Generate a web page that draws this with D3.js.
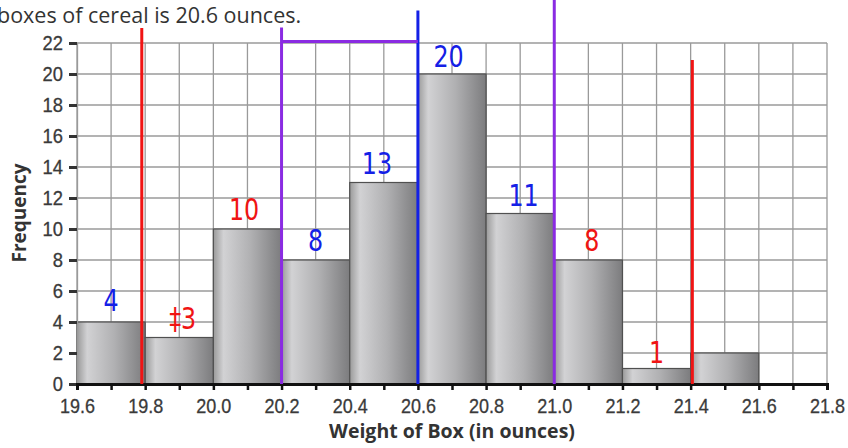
<!DOCTYPE html>
<html><head><meta charset="utf-8">
<script src="https://cdn.jsdelivr.net/npm/d3@7"></script>
<style>
html,body{margin:0;padding:0;background:#fff;overflow:hidden;}
svg{display:block;}
</style></head>
<body>
<svg id="c" width="848" height="448"></svg>
<script>
// ---- data ----
const binStarts = [19.6, 19.8, 20.0, 20.2, 20.4, 20.6, 20.8, 21.0, 21.2, 21.4];
const binWidth = 0.2;
const frequencies = [4, 3, 10, 8, 13, 20, 11, 8, 1, 2];
const yTicks = [0, 2, 4, 6, 8, 10, 12, 14, 16, 18, 20, 22];
const xTickLabels = ["19.6","19.8","20.0","20.2","20.4","20.6","20.8","21.0","21.2","21.4","21.6","21.8"];
const titleText = "boxes of cereal is 20.6 ounces.";
const xLabel = "Weight of Box (in ounces)";
const yLabel = "Frequency";
// hand-drawn annotations
const noteText = ["4", "\u20213", "10", "8", "13", "20", "11", "8", "1"];
const noteX = [19.70, 19.91, 20.09, 20.30, 20.48, 20.69, 20.91, 21.11, 21.30];
const noteY = [5.4, 4.3, 11.3, 9.3, 14.3, 21.2, 12.2, 9.3, 2.1];
const noteColor = ["blue", "red", "red", "blue", "blue", "blue", "blue", "red", "red"];
const markX = [19.79, 20.2, 20.6, 21.0, 21.405];
const markTop = [22.97, 23.0, 24.1, 24.8, 20.9];
const markColor = ["red", "purple", "blue", "purple", "red"];
const bracket = [20.2, 20.6, 22.1];

const colors = {red: "#f01414", blue: "#1420e6", purple: "#8a2be2"};

const svg = d3.select("#c");
const x = d3.scaleLinear().domain([19.6, 21.8]).range([77, 827]);
const y = d3.scaleLinear().domain([0, 22]).range([384, 43]);
const font = "'Liberation Sans', Arial, sans-serif";

// gradient
const defs = svg.append("defs");
const g = defs.append("linearGradient").attr("id", "barg").attr("x1", "0").attr("x2", "1").attr("y1", "0").attr("y2", "0");
g.append("stop").attr("offset", "0").attr("stop-color", "#9a9a9a");
g.append("stop").attr("offset", "0.15").attr("stop-color", "#d2d2d4");
g.append("stop").attr("offset", "0.55").attr("stop-color", "#b0b0b2");
g.append("stop").attr("offset", "1").attr("stop-color", "#7c7c7e");

// title
svg.append("text").attr("x", -3).attr("y", 23).attr("font-family", "'Open Sans', sans-serif")
  .attr("font-size", 21.5).attr("fill", "#333").text(titleText);

// grid
const vgrid = d3.range(0, 23).map(i => 19.6 + i * 0.1);
svg.append("g").selectAll("line").data(vgrid).join("line")
  .attr("x1", d => x(d)).attr("x2", d => x(d)).attr("y1", y(22)).attr("y2", y(0))
  .attr("stroke", "#9a9a9a").attr("stroke-width", 1.3);
svg.append("g").selectAll("line").data(yTicks.filter(d => d > 0)).join("line")
  .attr("x1", x(19.6)).attr("x2", x(21.8)).attr("y1", d => y(d)).attr("y2", d => y(d))
  .attr("stroke", "#9a9a9a").attr("stroke-width", 1.3);

// bars
svg.append("g").selectAll("rect").data(frequencies).join("rect")
  .attr("x", (d, i) => x(binStarts[i]))
  .attr("width", (d, i) => x(binStarts[i] + binWidth) - x(binStarts[i]))
  .attr("y", d => y(d)).attr("height", d => y(0) - y(d))
  .attr("fill", "url(#barg)").attr("stroke", "#505050").attr("stroke-width", 1.2);

// y axis
const ya = svg.append("g").attr("transform", `translate(${x(19.6)},0)`)
  .call(d3.axisLeft(y).tickValues(yTicks).tickSize(8).tickPadding(4));
ya.attr("font-size", null).attr("font-family", null);
ya.select(".domain").attr("stroke", "#9a9a9a").attr("stroke-width", 1.3);
ya.selectAll(".tick line").attr("stroke", "#333").attr("stroke-width", 3);
ya.selectAll(".tick text")
  .style("font-family", font).style("font-size", "20px").attr("fill", "#3a3a3a")
  .attr("stroke", "#3a3a3a").attr("stroke-width", 0.3)
  .attr("x", 0).attr("transform", "translate(-14,0) scale(0.92,1)");

// x axis
const xa = svg.append("g").attr("transform", `translate(0,${y(0)})`)
  .call(d3.axisBottom(x).tickValues(vgrid).tickSize(6).tickPadding(4)
    .tickFormat((d, i) => i % 2 === 0 ? xTickLabels[i / 2] : ""));
xa.attr("font-size", null).attr("font-family", null);
xa.select(".domain").attr("stroke", "#111").attr("stroke-width", 3);
xa.selectAll(".tick line").attr("stroke", "#111").attr("stroke-width", 2.5);
xa.selectAll(".tick text")
  .style("font-family", font).style("font-size", "20px").attr("fill", "#3a3a3a")
  .attr("stroke", "#3a3a3a").attr("stroke-width", 0.3)
  .attr("y", 0).attr("dy", 0).attr("transform", "translate(0,29) scale(0.9,1)");

// axis labels
svg.append("text").attr("x", 452).attr("y", 438).attr("text-anchor", "middle")
  .attr("font-family", "'Open Sans', sans-serif").attr("font-weight", "bold").attr("font-size", 19.5)
  .attr("fill", "#333").text(xLabel);
svg.append("text").attr("transform", `translate(26,213) rotate(-90)`).attr("text-anchor", "middle")
  .attr("font-family", "'Open Sans', sans-serif").attr("font-weight", "bold").attr("font-size", 19)
  .attr("fill", "#333").text(yLabel);

// hand-drawn marks
svg.append("g").selectAll("line").data(markX).join("line")
  .attr("x1", d => x(d)).attr("x2", d => x(d))
  .attr("y1", (d, i) => y(markTop[i])).attr("y2", y(0))
  .attr("stroke", (d, i) => colors[markColor[i]]).attr("stroke-width", 3);
svg.append("line").attr("x1", x(bracket[0])).attr("x2", x(bracket[1]))
  .attr("y1", y(bracket[2])).attr("y2", y(bracket[2]))
  .attr("stroke", colors.purple).attr("stroke-width", 3);

svg.append("g").selectAll("text").data(noteText).join("text")
  .attr("transform", (d, i) => `translate(${x(noteX[i])},${y(noteY[i])}) scale(0.85,1.1)`)
  .attr("text-anchor", "middle").attr("dominant-baseline", "central")
  .attr("font-family", "'DejaVu Sans', sans-serif").attr("font-size", 28)
  .attr("fill", (d, i) => colors[noteColor[i]]).text(d => d);
</script>
</body></html>
